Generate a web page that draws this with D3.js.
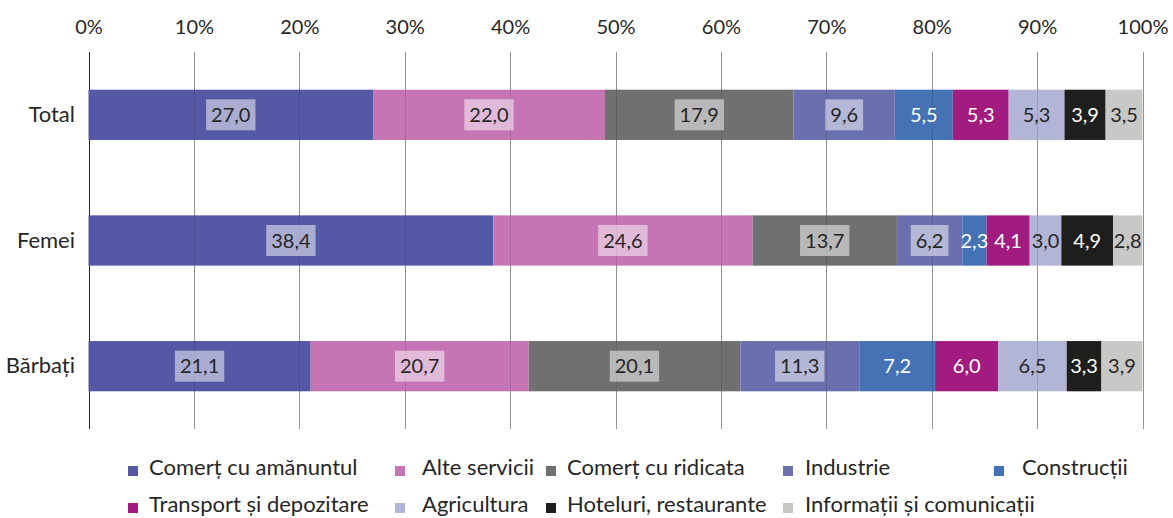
<!DOCTYPE html>
<html>
<head>
<meta charset="utf-8">
<script src="https://cdn.jsdelivr.net/npm/d3@7"></script>
<style>
  body { margin: 0; background: #fff; }
  svg text { font-family: Lato, "Open Sans", sans-serif; fill: #262626; }
</style>
</head>
<body>
<svg id="chart" width="1173" height="518"></svg>
<script>
// categories and sectors
const categories = ["Total", "Femei", "Bărbați"];
const sectors = [
  "Comerț cu amănuntul", "Alte servicii", "Comerț cu ridicata", "Industrie",
  "Construcții", "Transport și depozitare", "Agricultura",
  "Hoteluri, restaurante", "Informații și comunicații"
];

// shares (%) per category, in sector order
const totalValues   = [27.0, 22.0, 17.9, 9.6, 5.5, 5.3, 5.3, 3.9, 3.5];
const femeiValues   = [38.4, 24.6, 13.7, 6.2, 2.3, 4.1, 3.0, 4.9, 2.8];
const barbatiValues = [21.1, 20.7, 20.1, 11.3, 7.2, 6.0, 6.5, 3.3, 3.9];

const xTicks = [0, 0.1, 0.2, 0.3, 0.4, 0.5, 0.6, 0.7, 0.8, 0.9, 1];

// styles
const colors = ["#5559a5", "#c575b3", "#707070", "#6a6fae", "#4472b4",
                "#a21c80", "#b3b5d6", "#1e1e1c", "#c8c8c6"];
const labelColors = ["#262626", "#262626", "#262626", "#262626", "#ffffff",
                     "#ffffff", "#262626", "#ffffff", "#262626"];
const labelBox = [true, true, true, true, false, false, false, false, false];

var svg = d3.select("#chart");

// build table for the stack
var allValues = [totalValues, femeiValues, barbatiValues];
var table = categories.map(function (c, i) {
  var row = { cat: c };
  sectors.forEach(function (s, j) { row[s] = allValues[i][j]; });
  return row;
});

var series = d3.stack()
  .keys(sectors)
  .offset(d3.stackOffsetExpand)(table);

// scales
var x = d3.scaleLinear().domain([0, 1]).range([88.5, 1142.5]);
var y = d3.scaleBand()
  .domain(categories)
  .range([52, 429])
  .paddingInner(0.6)
  .paddingOuter(0.3);

// gridlines
svg.append("g")
  .selectAll("line")
  .data(xTicks)
  .enter()
  .append("line")
  .attr("x1", function (d) { return Math.round(x(d)) + 0.5; })
  .attr("x2", function (d) { return Math.round(x(d)) + 0.5; })
  .attr("y1", 52)
  .attr("y2", 429)
  .attr("stroke", function (d) { return d === 0 ? "#262626" : "#a6a6a6"; })
  .attr("stroke-width", 1);

// top axis labels
var xAxis = d3.axisTop(x)
  .tickValues(xTicks)
  .tickSize(0)
  .tickPadding(0)
  .tickFormat(d3.format(".0%"));

svg.append("g")
  .attr("transform", "translate(0, 34)")
  .call(xAxis)
  .call(function (g) { g.select(".domain").remove(); })
  .selectAll("text")
  .attr("dy", null)
  .style("font-size", "20px")
  .style("font-family", "Lato, sans-serif")
  .attr("fill", "#262626");

// bars
var groups = svg.append("g")
  .selectAll("g")
  .data(series)
  .enter()
  .append("g")
  .attr("fill", function (d, i) { return colors[i]; });

groups.selectAll("rect")
  .data(function (d) { return d; })
  .enter()
  .append("rect")
  .attr("x", function (d) { return x(d[0]); })
  .attr("width", function (d) { return x(d[1]) - x(d[0]); })
  .attr("y", function (d) { return y(d.data.cat); })
  .attr("height", y.bandwidth());

// faint gridlines over bars
svg.append("g")
  .selectAll("line")
  .data(xTicks.slice(1))
  .enter()
  .append("line")
  .attr("x1", function (d) { return Math.round(x(d)) + 0.5; })
  .attr("x2", function (d) { return Math.round(x(d)) + 0.5; })
  .attr("y1", 52)
  .attr("y2", 429)
  .attr("stroke", "#000")
  .attr("stroke-opacity", 0.12);

// category labels
svg.append("g")
  .selectAll("text")
  .data(categories)
  .enter()
  .append("text")
  .attr("x", 75)
  .attr("y", function (d) { return y(d) + y.bandwidth() / 2; })
  .attr("dy", "0.33em")
  .attr("text-anchor", "end")
  .style("font-size", "22px")
  .text(function (d) { return d; });

// value labels
var fmt = function (v) { return d3.format(".1f")(v).replace(".", ","); };

series.forEach(function (s, i) {
  var g = svg.append("g");
  s.forEach(function (d) {
    var cx = (x(d[0]) + x(d[1])) / 2;
    var cy = y(d.data.cat) + y.bandwidth() / 2;
    var t = g.append("text")
      .attr("x", cx)
      .attr("y", cy)
      .attr("dy", "0.35em")
      .attr("text-anchor", "middle")
      .style("font-size", "20px")
      .style("fill", labelColors[i])
      .text(fmt(d.data[s.key]));
    if (labelBox[i]) {
      var w = t.node().getComputedTextLength();
      g.insert("rect", function () { return t.node(); })
        .attr("x", cx - w / 2 - 5)
        .attr("y", cy - 15.5)
        .attr("width", w + 10)
        .attr("height", 31)
        .attr("fill", "#fff")
        .attr("fill-opacity", 0.5);
    }
  });
});

// legend
var legendPos = [
  { sx: 128, tx: 149, row: 0 }, { sx: 395, tx: 422, row: 0 },
  { sx: 546, tx: 567, row: 0 }, { sx: 783, tx: 805, row: 0 },
  { sx: 994, tx: 1022, row: 0 },
  { sx: 128, tx: 149, row: 1 }, { sx: 395, tx: 422, row: 1 },
  { sx: 546, tx: 567, row: 1 }, { sx: 783, tx: 805, row: 1 }
];
var rowBase = [475, 512];

var legend = svg.append("g")
  .selectAll("g")
  .data(sectors)
  .enter()
  .append("g");

legend.append("rect")
  .attr("x", function (d, i) { return legendPos[i].sx; })
  .attr("y", function (d, i) { return rowBase[legendPos[i].row] - 9; })
  .attr("width", 10)
  .attr("height", 10)
  .attr("fill", function (d, i) { return colors[i]; });

legend.append("text")
  .attr("x", function (d, i) { return legendPos[i].tx; })
  .attr("y", function (d, i) { return rowBase[legendPos[i].row]; })
  .style("font-size", "22px")
  .text(function (d) { return d; });
</script>
</body>
</html>
